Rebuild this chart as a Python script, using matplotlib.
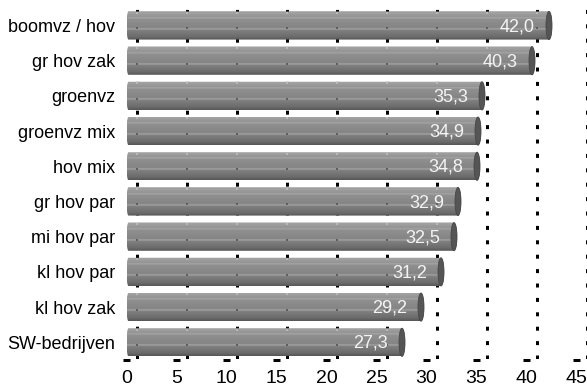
import numpy as np
import matplotlib
matplotlib.use("Agg")
import matplotlib.pyplot as plt
from matplotlib.path import Path
from matplotlib.patches import PathPatch, Ellipse
from matplotlib.colors import to_rgb

categories = ["boomvz / hov", "gr hov zak", "groenvz", "groenvz mix", "hov mix",
              "gr hov par", "mi hov par", "kl hov par", "kl hov zak", "SW-bedrijven"]
values = [42.0, 40.3, 35.3, 34.9, 34.8, 32.9, 32.5, 31.2, 29.2, 27.3]
xticks = [0, 5, 10, 15, 20, 25, 30, 35, 40, 45]

plt.rcParams['font.family'] = ['Liberation Sans', 'DejaVu Sans']

W, H = 587, 389
fig = plt.figure(figsize=(W / 100, H / 100), dpi=100)

# plot-area geometry (pixels)
x0_px, px_per_unit = 126.5, 10.0
top_px, floor_px = 8, 359
first_c, step = 25.5, 35.2

ax = fig.add_axes([x0_px / W, 1 - floor_px / H, (W - x0_px) / W, (floor_px - top_px) / H])
xmax = (W - x0_px) / px_per_unit
y_bottom = (floor_px - first_c) / step
y_top = (top_px - first_c) / step

bar_h = 0.8        # cylinder thickness in category units
depth = 1.0        # back-wall offset of the gridlines (3-D look)
cap_w = 0.3        # half-width of the cylinder end ellipse
cap_shift = 0.25

# vertical shading of the cylinders (top -> bottom)
stops = [
    (0.00, "#6c6c6c"), (0.04, "#a6a6a6"), (0.10, "#9c9c9c"), (0.20, "#939393"),
    (0.23, "#ababab"), (0.27, "#909090"), (0.58, "#848484"), (0.62, "#a9a9a9"),
    (0.66, "#808080"), (0.90, "#6b6b6b"), (1.00, "#555555"),
]
n = 96
pos = np.linspace(0, 1, n)
sp = np.array([s[0] for s in stops])
sc = np.array([to_rgb(s[1]) for s in stops])
shade = np.stack([np.interp(pos, sp, sc[:, k]) for k in range(3)], axis=-1)[:, None, :]

# dotted gridlines on the back wall
for v in xticks:
    ax.plot([v + depth, v + depth], [y_bottom, y_top], color="black", lw=2.16,
            linestyle=(0, (1.33, 3.47)), dash_capstyle="butt", zorder=1)

# dashed floor edge
floor_y = (floor_px + 1 - first_c) / step
for v in xticks:
    ax.plot([v - 0.35, v + 0.35], [floor_y, floor_y], color="black", lw=2.16,
            solid_capstyle="butt", clip_on=False, zorder=1)

t = np.linspace(-np.pi / 2, np.pi / 2, 48)
for i, v in enumerate(values):
    yc = i
    xe = v + cap_shift
    right = np.column_stack([xe + cap_w * np.cos(t), yc + bar_h / 2 * np.sin(t)])
    left = np.column_stack([0.2 - 0.2 * np.cos(t), yc - bar_h / 2 * np.sin(t)])
    verts = np.vstack([right, left, right[:1]])
    codes = [Path.MOVETO] + [Path.LINETO] * (len(verts) - 2) + [Path.CLOSEPOLY]
    body = PathPatch(Path(verts, codes), facecolor="none", edgecolor="none")
    ax.add_patch(body)
    im = ax.imshow(shade, extent=(0, xe + cap_w, yc + bar_h / 2, yc - bar_h / 2),
                   origin="upper", aspect="auto", interpolation="bilinear", zorder=3)
    im.set_clip_path(body)

    # faint gridline traces on the cylinder surface
    gx = [g + depth for g in xticks if g + depth < v - 0.2]
    ax.scatter(gx, [yc - bar_h / 2 + 0.04] * len(gx), marker="s", s=3,
               color="#b8b8b8", linewidths=0, zorder=4)
    ax.scatter(gx, [yc - bar_h / 2 + 0.6 * bar_h] * len(gx), marker="s", s=3,
               color="#5e5e5e", linewidths=0, zorder=4)

    cap = Ellipse((xe, yc), 2 * cap_w, bar_h, facecolor="#555555",
                  edgecolor="#474747", lw=0.6, zorder=5)
    ax.add_patch(cap)

    ax.text(v - 2.9, yc + 0.03, f"{v:.1f}".replace(".", ","), ha="center", va="center",
            color="#f4f4f4", fontsize=13, zorder=6)

ax.set_xlim(0, xmax)
ax.set_ylim(y_bottom, y_top)
ax.set_yticks(range(len(categories)), categories)
ax.set_xticks(xticks, [str(x) for x in xticks])
ax.tick_params(axis="y", length=0, pad=8, labelsize=13, labelcolor="black")
ax.tick_params(axis="x", length=0, pad=8, labelsize=14, labelcolor="black")
for s in ax.spines.values():
    s.set_visible(False)
ax.patch.set_alpha(0)

fig.savefig("out.png", dpi=100)
